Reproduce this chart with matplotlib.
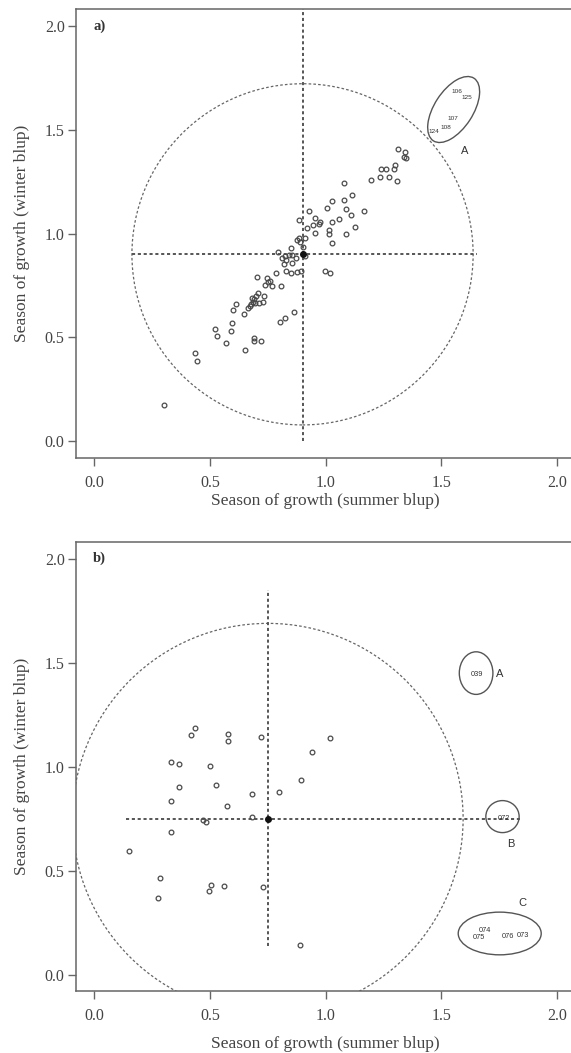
import matplotlib
matplotlib.use("Agg")
import matplotlib.pyplot as plt
from matplotlib.patches import Ellipse
from matplotlib.transforms import ScaledTranslation

plt.rcParams['font.family'] = ['Liberation Serif', 'DejaVu Serif']

# ---------------- data : panel a ----------------
a_x = [0.301, 0.435, 0.445, 0.522, 0.529, 0.571, 0.591, 0.594, 0.598, 0.614,
       0.647, 0.653, 0.690, 0.690, 0.722, 0.803, 0.824, 0.864,
       0.665, 0.671, 0.677, 0.684, 0.691, 0.697, 0.709, 0.695, 0.712, 0.730,
       0.732, 0.680, 0.702,
       0.738, 0.745, 0.749, 0.759, 0.769, 0.785, 0.805, 0.793, 0.811, 0.824,
       0.840, 0.853, 0.828, 0.872, 0.821, 0.854, 0.828, 0.851, 0.876, 0.892,
       0.998, 1.020, 0.911, 0.851, 0.901, 0.889, 0.877, 0.885, 0.912, 0.918,
       0.885, 0.929, 0.947, 0.955, 0.972, 0.974, 0.955, 1.013, 1.014, 1.026,
       1.026, 1.004, 1.027, 1.059, 1.079, 1.079, 1.086, 1.088, 1.108, 1.114,
       1.127, 1.167, 1.194, 1.236, 1.240, 1.262, 1.274, 1.295, 1.301, 1.307,
       1.312, 1.341, 1.338, 1.347]
a_y = [0.175, 0.423, 0.385, 0.542, 0.508, 0.473, 0.531, 0.568, 0.632, 0.662,
       0.613, 0.438, 0.497, 0.484, 0.484, 0.576, 0.592, 0.622,
       0.640, 0.652, 0.659, 0.672, 0.685, 0.699, 0.716, 0.666, 0.667, 0.670,
       0.699, 0.690, 0.789,
       0.752, 0.784, 0.769, 0.771, 0.749, 0.811, 0.749, 0.910, 0.882, 0.892,
       0.895, 0.897, 0.873, 0.881, 0.853, 0.860, 0.820, 0.808, 0.815, 0.818,
       0.820, 0.810, 0.893, 0.932, 0.937, 0.959, 0.969, 0.980, 0.980, 1.026,
       1.065, 1.107, 1.041, 1.075, 1.044, 1.055, 1.001, 0.996, 1.017, 0.954,
       1.057, 1.123, 1.156, 1.069, 1.242, 1.160, 1.116, 0.999, 1.088, 1.185,
       1.033, 1.110, 1.258, 1.273, 1.310, 1.310, 1.271, 1.309, 1.330, 1.255,
       1.407, 1.391, 1.370, 1.365]
a_mean = (0.9, 0.9)
a_lab = ['106', '125', '107', '108', '124']
a_lab_x = [1.569, 1.612, 1.551, 1.520, 1.468]
a_lab_y = [1.682, 1.655, 1.554, 1.511, 1.490]
a_groups = ['A']
a_group_x = [1.599]
a_group_y = [1.398]
a_group_ell = [(1.553, 1.597)]

# ---------------- data : panel b ----------------
b_x = [0.149, 0.275, 0.285, 0.330, 0.330, 0.330, 0.365, 0.365, 0.417, 0.434,
       0.500, 0.527, 0.469, 0.485, 0.494, 0.504, 0.559, 0.576, 0.578, 0.573,
       0.680, 0.683, 0.721, 0.730, 0.798, 0.892, 0.891, 0.939, 1.020]
b_y = [0.596, 0.371, 0.466, 1.024, 0.837, 0.684, 1.011, 0.901, 1.150, 1.186,
       1.002, 0.912, 0.745, 0.733, 0.404, 0.429, 0.427, 1.158, 1.122, 0.810,
       0.871, 0.760, 1.142, 0.422, 0.879, 0.934, 0.141, 1.073, 1.139]
b_mean = (0.75, 0.75)
b_lab = ['039', '072', '074', '075', '076', '073']
b_lab_x = [1.655, 1.769, 1.690, 1.663, 1.789, 1.854]
b_lab_y = [1.444, 0.753, 0.210, 0.180, 0.184, 0.187]
b_groups = ['A', 'B', 'C']
b_group_x = [1.753, 1.802, 1.851]
b_group_y = [1.445, 0.628, 0.346]
b_group_ell = [(1.650, 1.450), (1.764, 0.760), (1.752, 0.198)]

ticks = [0.0, 0.5, 1.0, 1.5, 2.0]
tick_labels = ['0.0', '0.5', '1.0', '1.5', '2.0']
xlab = 'Season of growth (summer blup)'
ylab = 'Season of growth (winter blup)'

# ---------------- styling ----------------
GRAY = '#555555'
TXT = '#444444'

fig = plt.figure(figsize=(5.71, 10.53), dpi=100)
ax1 = fig.add_axes([0.1326, 0.5651, 0.8755, 0.4262])
ax2 = fig.add_axes([0.1326, 0.0586, 0.8755, 0.4266])


def setup(ax, tag, xpad):
    ax.set_xlim(-0.08, 2.08)
    ax.set_ylim(-0.08, 2.08)
    ax.set_xticks(ticks)
    ax.set_xticklabels(tick_labels)
    ax.set_yticks(ticks)
    ax.set_yticklabels(tick_labels)
    for s in ax.spines.values():
        s.set_color('#666666')
        s.set_linewidth(1.1)
    ax.tick_params(axis='both', direction='out', length=5.5, width=1.0,
                   color='#666666', labelsize=11.5, labelcolor=TXT)
    ax.tick_params(axis='x', pad=6.7)
    ax.tick_params(axis='y', pad=2.4)
    ax.set_xlabel(xlab, fontsize=12.5, color=TXT, labelpad=xpad)
    ax.set_ylabel(ylab, fontsize=12.5, color=TXT, labelpad=10.6)
    ax.text(-0.004, 2.0, tag, fontsize=10.5, fontweight='bold', color='#333333',
            ha='left', va='center')


def fixed_ellipse(ax, cx, cy, w_px, h_px, angle, **kw):
    tr = fig.dpi_scale_trans + ScaledTranslation(cx, cy, ax.transData)
    e = Ellipse((0, 0), w_px / 100.0, h_px / 100.0, angle=angle,
                transform=tr, fill=False, **kw)
    ax.add_patch(e)
    return e


setup(ax1, 'a)', 1.8)
setup(ax2, 'b)', 8.5)

cross_kw = dict(color=GRAY, lw=1.4, linestyle=(0, (1.6, 1.4)))
circ_kw = dict(edgecolor='#666666', lw=0.9, linestyle=(0, (2.1, 1.7)))
ell_kw = dict(edgecolor=GRAY, lw=1.0)
pt_kw = dict(linestyle='none', marker='o', markersize=3.4, mfc='none',
             mec='#4a4a4a', mew=0.9)

# panel a
ax1.plot([0.165, 1.656], [a_mean[1], a_mean[1]], **cross_kw)
ax1.plot([a_mean[0], a_mean[0]], [0.0, 2.1], **cross_kw)
fixed_ellipse(ax1, a_mean[0], a_mean[1], 341.2, 341.2, 0, **circ_kw)
ax1.plot(a_x, a_y, **pt_kw)
ax1.plot([a_mean[0]], [a_mean[1]], marker='o', markersize=4, color='#111111')
for t, x, y in zip(a_lab, a_lab_x, a_lab_y):
    ax1.text(x, y, t, fontsize=4.6, family=['Liberation Sans', 'DejaVu Sans'],
             color='#333333', ha='center', va='center')
for t, x, y in zip(a_groups, a_group_x, a_group_y):
    ax1.text(x, y, t, fontsize=8, family=['Liberation Sans', 'DejaVu Sans'],
             color='#333333', ha='center', va='center')
fixed_ellipse(ax1, a_group_ell[0][0], a_group_ell[0][1], 74.6, 38.6, 57, **ell_kw)

# panel b
ax2.plot([0.137, 1.844], [b_mean[1], b_mean[1]], **cross_kw)
ax2.plot([b_mean[0], b_mean[0]], [0.138, 1.852], **cross_kw)
fixed_ellipse(ax2, b_mean[0], b_mean[1], 390.6, 390.6, 0, **circ_kw)
ax2.plot(b_x, b_y, **pt_kw)
ax2.plot([b_mean[0]], [b_mean[1]], marker='o', markersize=4, color='#111111')
for t, x, y in zip(b_lab, b_lab_x, b_lab_y):
    ax2.text(x, y, t, fontsize=5.3, family=['Liberation Sans', 'DejaVu Sans'],
             color='#333333', ha='center', va='center')
for t, x, y in zip(b_groups, b_group_x, b_group_y):
    ax2.text(x, y, t, fontsize=8, family=['Liberation Sans', 'DejaVu Sans'],
             color='#333333', ha='center', va='center')
ell_sizes_b = [(33.6, 42.6), (33.3, 32.0), (83.0, 42.7)]
for (cx, cy), (w, h) in zip(b_group_ell, ell_sizes_b):
    fixed_ellipse(ax2, cx, cy, w, h, 0, **ell_kw)

for ax in (ax1, ax2):
    ax.set_xlim(-0.08, 2.08)
    ax.set_ylim(-0.08, 2.08)

fig.savefig('out.png', dpi=100)
